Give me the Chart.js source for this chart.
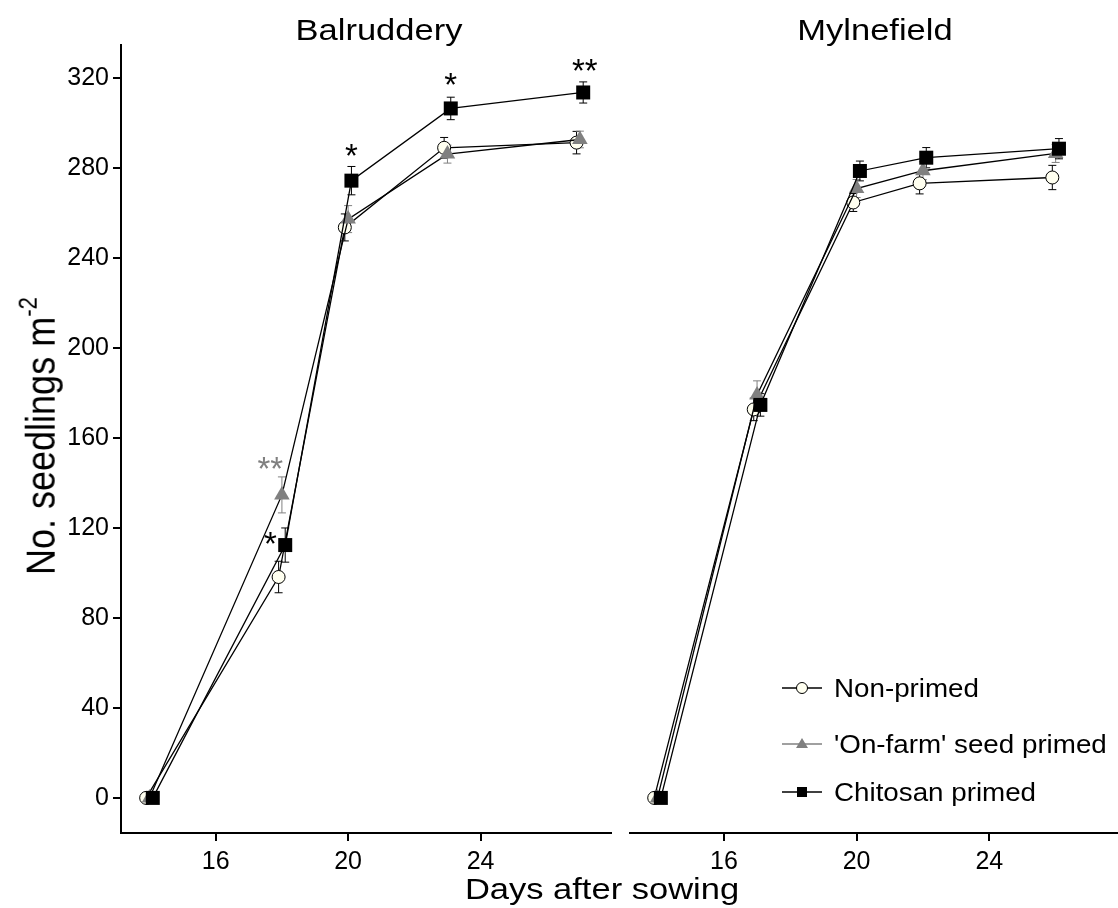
<!DOCTYPE html>
<html>
<head>
<meta charset="utf-8">
<script src="https://cdn.jsdelivr.net/npm/chart.js@4/dist/chart.umd.min.js"></script>
<style>
  html, body { margin: 0; padding: 0; background: #fff; overflow: hidden; }
  #wrap { position: relative; width: 1118px; height: 908px; overflow: hidden;
          font-family: "Liberation Sans", Arial, sans-serif; color: #000; }
  canvas { position: absolute; top: 0; }
  .lbl { position: absolute; white-space: nowrap; line-height: 1; }
  .center { transform: translate(-50%, -50%) scaleX(1.15); }
  .ytitle { transform: translate(-50%, -50%) rotate(-90deg) scaleY(1.12); }
  .ytitle sup { font-size: 0.62em; position: relative; top: -0.15em; }
  .legend-row { position: absolute; left: 781px; height: 30px; display: flex; align-items: center; }
  .legend-row span { font-size: 25px; display: inline-block; transform: scaleX(1.11); transform-origin: left center; margin-left: 11px; }
</style>
</head>
<body>
<div id="wrap">
  <canvas id="balruddery" width="612" height="908" style="left:0"></canvas>
  <canvas id="mylnefield" width="492" height="908" style="left:629px"></canvas>

  <div class="lbl center" style="left:379px; top:30px; font-size:30px;">Balruddery</div>
  <div class="lbl center" style="left:875px; top:30px; font-size:30px;">Mylnefield</div>
  <div class="lbl center" style="left:602px; top:889px; font-size:30px;">Days after sowing</div>
  <div class="lbl ytitle" style="left:41px; top:436px; font-size:36px;">No. seedlings m<sup>-2</sup></div>

  <div class="legend-row" style="top:673px;">
    <svg width="42" height="16"><line x1="1" y1="8" x2="41" y2="8" stroke="#000" stroke-width="1.5"/><circle cx="21" cy="8" r="5.5" fill="#fffff0" stroke="#000" stroke-width="1"/></svg>
    <span>Non-primed</span>
  </div>
  <div class="legend-row" style="top:729px;">
    <svg width="42" height="16"><line x1="1" y1="8" x2="41" y2="8" stroke="#808080" stroke-width="1.5"/><polygon points="21,2 27,12 15,12" fill="#808080"/></svg>
    <span>'On-farm' seed primed</span>
  </div>
  <div class="legend-row" style="top:777px;">
    <svg width="42" height="16"><line x1="1" y1="8" x2="41" y2="8" stroke="#000" stroke-width="1.5"/><rect x="16" y="3" width="10" height="10" fill="#000"/></svg>
    <span>Chitosan primed</span>
  </div>
</div>

<script>
// Sampling days for each site
const daysBalruddery = [14, 18, 20, 23, 27];
const daysMylnefield = [14, 17, 20, 22, 26];

// Balruddery: mean seedlings per m² and standard errors
const nonPrimedBal   = [0, 98.2, 253.6, 289.0, 291.3];
const nonPrimedBalSE = [0, 7.0, 6.0, 4.6, 5.0];
const onFarmBal      = [0, 134.7, 257.3, 286.2, 292.7];
const onFarmBalSE    = [0, 8.0, 6.0, 4.0, 3.7];
const chitosanBal    = [0, 112.4, 274.4, 306.5, 313.6];
const chitosanBalSE  = [0, 7.6, 6.3, 5.0, 4.7];

// Mylnefield: mean seedlings per m² and standard errors
const nonPrimedMyl   = [0, 172.7, 264.7, 273.2, 275.8];
const nonPrimedMylSE = [0, 5.0, 4.0, 4.7, 5.4];
const onFarmMyl      = [0, 179.1, 270.9, 278.8, 286.5];
const onFarmMylSE    = [0, 6.3, 4.0, 4.0, 4.0];
const chitosanMyl    = [0, 174.7, 278.7, 284.6, 288.6];
const chitosanMylSE  = [0, 5.0, 4.4, 4.5, 4.5];

// Axis ticks
const yTicks = [0, 40, 80, 120, 160, 200, 240, 280, 320];
const xTicks = [16, 20, 24];

// Significance marks (anchor in days / seedlings)
const sigBalruddery = [
  { day: 17.65, value: 148.8, text: '**', color: '#808080' },
  { day: 17.65, value: 115.4, text: '*',  color: '#000' },
  { day: 20.10, value: 288.0, text: '*',  color: '#000' },
  { day: 23.10, value: 319.4, text: '*',  color: '#000' },
  { day: 27.15, value: 325.8, text: '**', color: '#000' }
];
const sigMylnefield = [];

// Shared axis ranges
const X_MIN = 13.14, X_MAX = 27.97;
const Y_MIN = -15.6, Y_MAX = 334.7;
// Horizontal dodge between treatments (days)
const DODGE = { non: -0.1, farm: 0, chit: 0.1 };

const FONT = '"Liberation Sans", Arial, sans-serif';

function points(days, values, shift) {
  return days.map((d, i) => ({ x: d + shift, y: values[i] }));
}

// Vertical error bars with caps, drawn beneath the markers
const errorBarPlugin = {
  id: 'errorBars',
  beforeDatasetsDraw(chart) {
    const ctx = chart.ctx;
    const xs = chart.scales.x, ys = chart.scales.y;
    chart.data.datasets.forEach((ds, di) => {
      if (!chart.isDatasetVisible(di)) return;
      ctx.save();
      ctx.strokeStyle = ds.errorColor;
      ctx.lineWidth = 1;
      ds.data.forEach((p, i) => {
        const e = ds.errors[i];
        if (!e) return;
        const x = xs.getPixelForValue(p.x);
        const yt = ys.getPixelForValue(p.y + e);
        const yb = ys.getPixelForValue(p.y - e);
        ctx.beginPath();
        ctx.moveTo(x, yt); ctx.lineTo(x, yb);
        ctx.moveTo(x - 4, yt); ctx.lineTo(x + 4, yt);
        ctx.moveTo(x - 4, yb); ctx.lineTo(x + 4, yb);
        ctx.stroke();
      });
      ctx.restore();
    });
  }
};

// Asterisks marking significant differences
const sigPlugin = {
  id: 'sigMarks',
  afterDatasetsDraw(chart, args, opts) {
    const ctx = chart.ctx;
    const xs = chart.scales.x, ys = chart.scales.y;
    ctx.save();
    ctx.font = '33px ' + FONT;
    ctx.textAlign = 'center';
    ctx.textBaseline = 'alphabetic';
    (opts.marks || []).forEach(m => {
      const x = xs.getPixelForValue(m.day);
      const y = ys.getPixelForValue(m.value);
      ctx.fillStyle = m.color;
      ctx.fillText(m.text, x, y + 17);
    });
    ctx.restore();
  }
};

function makePanel(id, days, nonP, nonSE, farm, farmSE, chit, chitSE, marks, showY) {
  const canvas = document.getElementById(id);
  const common = { borderColor: '#000', borderWidth: 1.3, tension: 0, fill: false };
  return new Chart(canvas, {
    type: 'line',
    data: {
      datasets: [
        Object.assign({}, common, {
          label: 'Non-primed', order: 3,
          data: points(days, nonP, DODGE.non), errors: nonSE, errorColor: '#000',
          pointStyle: 'circle', pointRadius: 6.5, pointBackgroundColor: '#fffff0',
          pointBorderColor: '#000', pointBorderWidth: 1
        }),
        Object.assign({}, common, {
          label: "'On-farm' seed primed", order: 2,
          data: points(days, farm, DODGE.farm), errors: farmSE, errorColor: '#808080',
          pointStyle: 'triangle', pointRadius: 9, pointBackgroundColor: '#808080',
          pointBorderColor: '#808080', pointBorderWidth: 0
        }),
        Object.assign({}, common, {
          label: 'Chitosan primed', order: 1,
          data: points(days, chit, DODGE.chit), errors: chitSE, errorColor: '#000',
          pointStyle: 'rect', pointRadius: 9.9, pointBackgroundColor: '#000',
          pointBorderColor: '#000', pointBorderWidth: 0
        })
      ]
    },
    options: {
      responsive: false,
      animation: false,
      devicePixelRatio: 1,
      layout: { autoPadding: false, padding: { top: 45, right: 0, bottom: 0, left: 0 } },
      plugins: {
        legend: { display: false },
        tooltip: { enabled: false },
        sigMarks: { marks: marks }
      },
      scales: {
        x: {
          type: 'linear', min: X_MIN, max: X_MAX,
          afterBuildTicks: s => { s.ticks = xTicks.map(v => ({ value: v })); },
          afterFit: s => { s.height = 75; },
          border: { display: true, color: '#000', width: 2 },
          grid: { display: true, drawOnChartArea: false, drawTicks: true, tickLength: 8, tickColor: '#000', lineWidth: 2 },
          ticks: { color: '#000', padding: 6, font: { family: FONT, size: 25 }, maxRotation: 0 }
        },
        y: {
          type: 'linear', min: Y_MIN, max: Y_MAX, display: showY,
          afterBuildTicks: s => { s.ticks = yTicks.map(v => ({ value: v })); },
          afterFit: s => { s.width = showY ? 121 : 0; },
          border: { display: true, color: '#000', width: 2 },
          grid: { display: true, drawOnChartArea: false, drawTicks: true, tickLength: 8, tickColor: '#000', lineWidth: 2 },
          ticks: { color: '#000', padding: 4, font: { family: FONT, size: 25 } }
        }
      }
    },
    plugins: [errorBarPlugin, sigPlugin]
  });
}

makePanel('balruddery', daysBalruddery,
  nonPrimedBal, nonPrimedBalSE, onFarmBal, onFarmBalSE, chitosanBal, chitosanBalSE,
  sigBalruddery, true);
makePanel('mylnefield', daysMylnefield,
  nonPrimedMyl, nonPrimedMylSE, onFarmMyl, onFarmMylSE, chitosanMyl, chitosanMylSE,
  sigMylnefield, false);
</script>
</body>
</html>
